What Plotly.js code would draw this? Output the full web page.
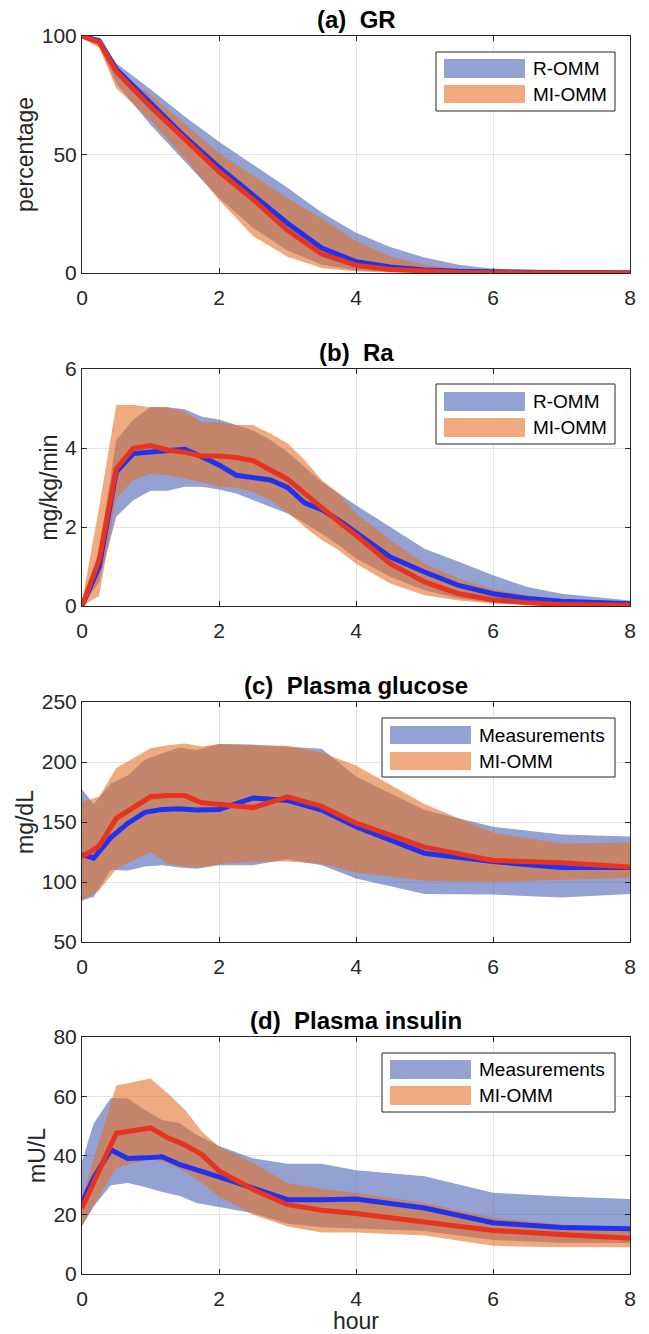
<!DOCTYPE html>
<html>
<head>
<meta charset="utf-8">
<script src="https://cdn.plot.ly/plotly-3.0.1.min.js"></script>
<style>html,body{margin:0;padding:0;background:#fff;}#chart{width:649px;height:1334px;}</style>
</head>
<body>
<div id="chart"></div>
<script>
// ---------- (a) GR ----------
const tA = [0, 0.25, 0.5, 1, 1.5, 2, 2.5, 3, 3.5, 4, 4.5, 5, 5.5, 6, 7, 8];
const grROMM      = [100, 98, 86, 71.5, 57.5, 44.6, 33, 21, 10.5, 4.8, 2.5, 1.3, 0.7, 0.4, 0.2, 0.1];
const grROMMUp    = [100, 99, 88.5, 77.5, 66, 55.4, 45.7, 36, 25.5, 17, 11, 6.5, 3.5, 1.8, 0.9, 0.6];
const grROMMLo    = [99, 96, 80, 62.5, 47, 31.6, 19, 9.5, 3.5, 1.2, 0.4, 0.2, 0.1, 0.05, 0, 0];
const grMIOMM     = [100, 97.5, 85, 70.2, 56.5, 42.8, 31, 18, 8, 3.3, 1.5, 0.7, 0.3, 0.15, 0.05, 0];
const grMIOMMUp   = [100, 99, 86, 75, 63, 50.5, 41, 31.5, 23, 13.5, 7, 3.5, 1.5, 0.6, 0.1, 0];
const grMIOMMLo   = [99, 95, 78, 64.5, 48.5, 30.8, 15.5, 6.9, 2.1, 0.6, 0.2, 0.1, 0, 0, 0, 0];

// ---------- (b) Ra ----------
const tB = [0, 0.25, 0.5, 0.75, 1, 1.25, 1.5, 1.75, 2, 2.25, 2.5, 2.75, 3, 3.25, 3.5, 3.75, 4, 4.5, 5, 5.5, 6, 6.5, 7, 8];
const raROMM    = [0, 0.99, 3.4, 3.86, 3.9, 3.95, 3.97, 3.78, 3.57, 3.31, 3.25, 3.19, 3.0, 2.61, 2.44, 2.17, 1.86, 1.24, 0.86, 0.52, 0.31, 0.19, 0.12, 0.06];
const raROMMUp  = [0.05, 1.4, 4.2, 4.72, 5.04, 5.03, 4.98, 4.79, 4.72, 4.58, 4.44, 4.2, 3.9, 3.52, 3.14, 2.85, 2.55, 2.0, 1.45, 1.12, 0.78, 0.48, 0.31, 0.14];
const raROMMLo  = [0, 0.6, 2.26, 2.68, 2.92, 2.92, 3.02, 3.02, 2.95, 2.85, 2.68, 2.51, 2.34, 2.1, 1.83, 1.54, 1.2, 0.74, 0.4, 0.19, 0.08, 0.04, 0.03, 0.01];
const raMIOMM   = [0, 1.16, 3.48, 3.99, 4.06, 3.95, 3.89, 3.80, 3.80, 3.76, 3.68, 3.44, 3.21, 2.85, 2.47, 2.13, 1.79, 1.07, 0.61, 0.31, 0.16, 0.08, 0.04, 0.02];
const raMIOMMUp = [0.1, 2.5, 5.09, 5.09, 5.03, 5.03, 4.92, 4.65, 4.65, 4.58, 4.58, 4.37, 4.12, 3.69, 3.19, 2.85, 2.34, 1.67, 1.07, 0.69, 0.43, 0.27, 0.16, 0.06];
const raMIOMMLo = [0, 0.25, 2.72, 3.19, 3.34, 3.31, 3.23, 3.14, 3.02, 3.0, 2.89, 2.68, 2.38, 2.0, 1.67, 1.41, 1.07, 0.57, 0.27, 0.14, 0.06, 0.03, 0.01, 0];

// ---------- measurement times (hours) for (c) and (d) ----------
const tMeas = [0, 0.17, 0.42, 0.67, 0.92, 1.17, 1.42, 1.67, 2, 2.5, 3, 3.5, 4, 5, 6, 7, 8];

// ---------- (c) Plasma glucose ----------
const tC = [0, 0.25, 0.5, 1, 1.25, 1.5, 1.75, 2, 2.5, 3, 3.5, 4, 5, 6, 7, 8];
const gluMeas    = [123, 120, 137, 149, 158, 160.5, 161, 160, 160.5, 170, 168, 160, 146, 124, 117, 112, 112];
const gluMeasUp  = [177, 165, 182, 189, 202, 207, 212, 210, 215, 214.5, 213, 211, 188, 160, 146, 139.5, 138];
const gluMeasLo  = [85, 87.5, 110, 109.5, 113, 114, 112, 111, 114, 114, 119, 114, 103, 90, 89.5, 87, 90];
const gluMIOMM   = [121, 130, 153, 171, 172, 172, 166, 165, 162, 171, 163, 149, 129, 118, 116, 112.5];
const gluMIOMMUp = [167, 171, 195, 211.5, 214, 215.5, 213, 215, 214, 213.5, 208, 197, 165, 141, 132, 133];
const gluMIOMMLo = [84, 93, 111, 125, 115, 113, 112, 115, 117, 117, 115, 108, 101, 100, 102, 103.5];

// ---------- (d) Plasma insulin ----------
const tD = [0, 0.5, 1, 1.25, 1.5, 1.75, 2, 2.5, 3, 3.5, 4, 5, 6, 7, 8];
const insMeas    = [24, 32.4, 41.9, 39, 39.2, 39.6, 37, 35, 32.8, 29, 25.1, 25.1, 25.3, 22.3, 17.3, 15.7, 15.3];
const insMeasUp  = [38, 50.8, 59.4, 59.2, 55.4, 52, 51, 47, 43.2, 39, 37.2, 37.2, 35, 33, 27.4, 26.2, 25.3];
const insMeasLo  = [16, 22.8, 30, 30.7, 29.4, 27.7, 26.4, 24, 22.6, 20.5, 17, 15.8, 15.5, 14.5, 11.5, 10.5, 10.5];
const insMIOMM   = [22.3, 47.5, 49.3, 46, 43.6, 40.3, 34.8, 28.5, 23.4, 21.5, 20.4, 17.4, 14.7, 13.3, 12.1];
const insMIOMMUp = [26, 63.6, 66, 61, 55.5, 48, 43, 37.5, 30.7, 28.7, 27.3, 24, 19, 16.7, 15.5];
const insMIOMMLo = [16.5, 35.8, 38.8, 37.5, 34.5, 30.7, 26.2, 20, 16, 14, 14, 13, 9.5, 9, 9];

// ---------- text ----------
const panelTitles = ['(a)  GR', '(b)  Ra', '(c)  Plasma glucose', '(d)  Plasma insulin'];
const yTitles = ['percentage', 'mg/kg/min', 'mg/dL', 'mU/L'];
const xTitle = 'hour';
const legendNames = [['R-OMM', 'MI-OMM'], ['R-OMM', 'MI-OMM'], ['Measurements', 'MI-OMM'], ['Measurements', 'MI-OMM']];
const yRanges = [[0, 100], [0, 6], [50, 250], [0, 80]];
const yDticks = [50, 2, 50, 20];

// ---------- style ----------
const BLUE_BAND = 'rgba(76,99,182,0.6)';
const ORANGE_BAND = 'rgba(228,115,42,0.6)';
const BLUE_LINE = '#1e32f0';
const RED_LINE = '#e8341e';
const FONT = 'Liberation Sans, Arial, Helvetica, sans-serif';
const W = 649, H = 1334;
const plotLeft = 82, plotRight = 630;
const panelPix = [[36, 273], [369, 606], [702, 942], [1037, 1274]];
const legendBox = [
  {x0: 436, x1: 615, y0: 52, y1: 111, sx0: 444, sx1: 525, s1: [59, 78], s2: [85, 103]},
  {x0: 436, x1: 615, y0: 384, y1: 444, sx0: 444, sx1: 525, s1: [392, 411], s2: [418, 437]},
  {x0: 382, x1: 615, y0: 718, y1: 777, sx0: 390, sx1: 471, s1: [726, 744], s2: [752, 770]},
  {x0: 382, x1: 615, y0: 1053, y1: 1112, sx0: 390, sx1: 471, s1: [1060, 1079], s2: [1086, 1105]}
];

function band(x, up, lo, color, i) {
  return {
    x: x.concat(x.slice().reverse()),
    y: up.concat(lo.slice().reverse()),
    type: 'scatter', mode: 'lines', fill: 'toself', fillcolor: color,
    line: {width: 0, color: color}, hoverinfo: 'skip', showlegend: false,
    xaxis: 'x' + (i === 0 ? '' : i + 1), yaxis: 'y' + (i === 0 ? '' : i + 1)
  };
}
function line(x, y, color, i) {
  return {
    x: x, y: y, type: 'scatter', mode: 'lines',
    line: {width: 5, color: color, shape: 'linear'}, showlegend: false,
    xaxis: 'x' + (i === 0 ? '' : i + 1), yaxis: 'y' + (i === 0 ? '' : i + 1)
  };
}

const data = [
  band(tA, grROMMUp, grROMMLo, BLUE_BAND, 0),
  band(tA, grMIOMMUp, grMIOMMLo, ORANGE_BAND, 0),
  line(tA, grROMM, BLUE_LINE, 0),
  line(tA, grMIOMM, RED_LINE, 0),
  band(tB, raROMMUp, raROMMLo, BLUE_BAND, 1),
  band(tB, raMIOMMUp, raMIOMMLo, ORANGE_BAND, 1),
  line(tB, raROMM, BLUE_LINE, 1),
  line(tB, raMIOMM, RED_LINE, 1),
  band(tMeas, gluMeasUp, gluMeasLo, BLUE_BAND, 2),
  band(tC, gluMIOMMUp, gluMIOMMLo, ORANGE_BAND, 2),
  line(tMeas, gluMeas, BLUE_LINE, 2),
  line(tC, gluMIOMM, RED_LINE, 2),
  band(tMeas, insMeasUp, insMeasLo, BLUE_BAND, 3),
  band(tD, insMIOMMUp, insMIOMMLo, ORANGE_BAND, 3),
  line(tMeas, insMeas, BLUE_LINE, 3),
  line(tD, insMIOMM, RED_LINE, 3)
];

const px = v => v / W;
const py = v => 1 - v / H;

const layout = {
  width: W, height: H,
  margin: {l: 0, r: 0, t: 0, b: 0},
  paper_bgcolor: '#fff', plot_bgcolor: '#fff',
  showlegend: false,
  font: {family: FONT, color: '#262626', size: 21},
  annotations: [], shapes: []
};

for (let i = 0; i < 4; i++) {
  const sfx = i === 0 ? '' : String(i + 1);
  const [top, bot] = panelPix[i];
  const common = {
    showline: true, linecolor: '#262626', linewidth: 1, mirror: 'ticks',
    ticks: 'inside', ticklen: 5, tickcolor: '#262626', tickwidth: 1,
    showgrid: true, gridcolor: '#e3e3e3', gridwidth: 1, zeroline: false,
    tickfont: {family: FONT, size: 21, color: '#262626'}, fixedrange: true
  };
  layout['xaxis' + sfx] = Object.assign({}, common, {
    domain: [px(plotLeft), px(plotRight)], anchor: 'y' + sfx,
    range: [0, 8], dtick: 2, tick0: 0, ticklabelstandoff: 6,
    title: i === 3 ? {text: xTitle, font: {family: FONT, size: 23, color: '#262626'}, standoff: 10} : {text: ''}
  });
  layout['yaxis' + sfx] = Object.assign({}, common, {
    domain: [py(bot), py(top)], anchor: 'x' + sfx,
    range: yRanges[i], dtick: yDticks[i], tick0: 0,
    title: {text: yTitles[i], font: {family: FONT, size: 23, color: '#262626'}, standoff: 1}
  });
  layout.annotations.push({
    text: '<b>' + panelTitles[i] + '</b>', xref: 'paper', yref: 'paper',
    x: px((plotLeft + plotRight) / 2), y: py(top - 1), xanchor: 'center', yanchor: 'bottom',
    showarrow: false, font: {family: FONT, size: 24, color: '#000'}
  });
  const L = legendBox[i];
  layout.shapes.push({type: 'rect', xref: 'paper', yref: 'paper', x0: px(L.x0), x1: px(L.x1), y0: py(L.y1), y1: py(L.y0),
    line: {color: '#262626', width: 1}, fillcolor: '#fff', layer: 'above'});
  layout.shapes.push({type: 'rect', xref: 'paper', yref: 'paper', x0: px(L.sx0), x1: px(L.sx1), y0: py(L.s1[1]), y1: py(L.s1[0]),
    line: {width: 0}, fillcolor: BLUE_BAND, layer: 'above'});
  layout.shapes.push({type: 'rect', xref: 'paper', yref: 'paper', x0: px(L.sx0), x1: px(L.sx1), y0: py(L.s2[1]), y1: py(L.s2[0]),
    line: {width: 0}, fillcolor: ORANGE_BAND, layer: 'above'});
  layout.annotations.push({text: legendNames[i][0], xref: 'paper', yref: 'paper', x: px(L.sx1 + 6), y: py((L.s1[0] + L.s1[1]) / 2),
    xanchor: 'left', yanchor: 'middle', showarrow: false, font: {family: FONT, size: 19, color: '#000'}});
  layout.annotations.push({text: legendNames[i][1], xref: 'paper', yref: 'paper', x: px(L.sx1 + 6), y: py((L.s2[0] + L.s2[1]) / 2),
    xanchor: 'left', yanchor: 'middle', showarrow: false, font: {family: FONT, size: 19, color: '#000'}});
}

Plotly.newPlot('chart', data, layout, {displayModeBar: false, staticPlot: true});
</script>
</body>
</html>
